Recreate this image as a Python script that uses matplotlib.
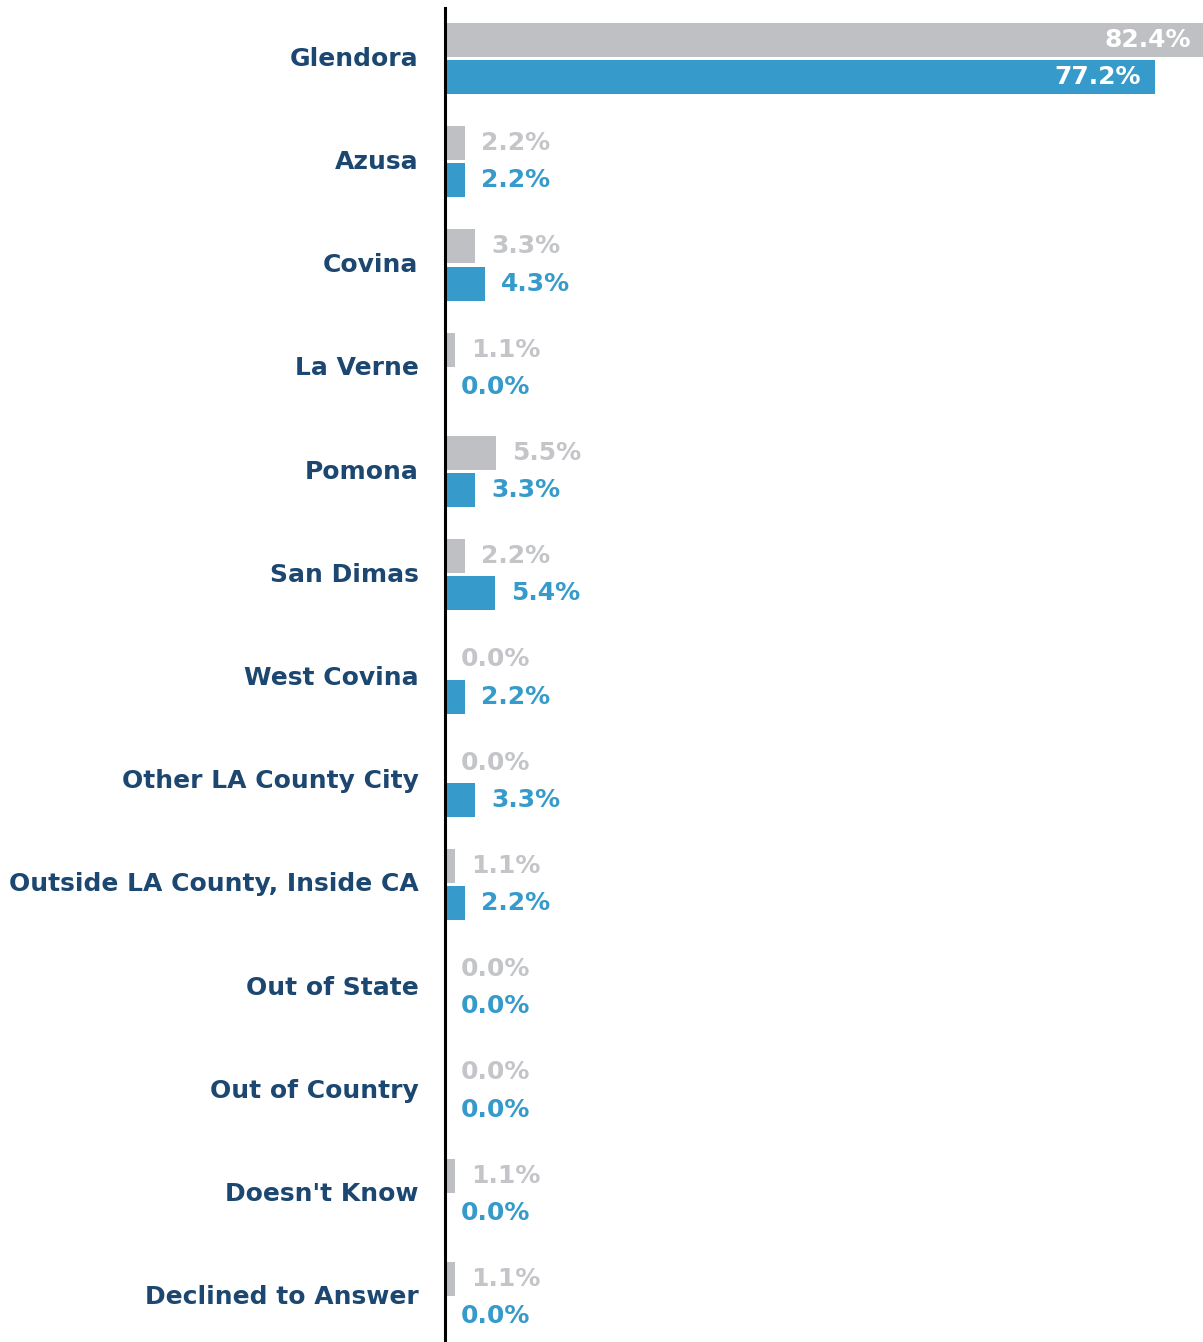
import matplotlib
matplotlib.use("Agg")
import matplotlib.pyplot as plt
import numpy as np

categories = ["Glendora", "Azusa", "Covina", "La Verne", "Pomona", "San Dimas",
              "West Covina", "Other LA County City", "Outside LA County, Inside CA",
              "Out of State", "Out of Country", "Doesn't Know", "Declined to Answer"]
prev_values = [82.4, 2.2, 3.3, 1.1, 5.5, 2.2, 0.0, 0.0, 1.1, 0.0, 0.0, 1.1, 1.1]
curr_values = [77.2, 2.2, 4.3, 0.0, 3.3, 5.4, 2.2, 3.3, 2.2, 0.0, 0.0, 0.0, 0.0]

GREY = "#BEC0C4"
GREY_TXT = "#C3C5C9"
BLUE = "#369BCA"
NAVY = "#1B4770"
FONT = "DejaVu Sans"

W, H = 1203, 1342
fig = plt.figure(figsize=(W / 100, H / 100), dpi=100)
left = 445 / W
top_px, bot_px = 8, 1342
ax = fig.add_axes([left, 1 - bot_px / H, 1 - left, (bot_px - top_px) / H])

y = np.arange(len(categories))
off = 0.18
h = 0.33
ax.barh(y - off, prev_values, height=h, color=GREY)
ax.barh(y + off, curr_values, height=h, color=BLUE)

xmax = 82.4
ax.set_xlim(0, xmax)
ax.set_ylim(12 + 44.5 / 103.2, -50.5 / 103.2)

for yi, v in zip(y, prev_values):
    if v > 40:
        ax.annotate(f"{v:.1f}%", (v, yi - off), xytext=(-12, 0), textcoords="offset pixels",
                    ha="right", va="center", color="white", fontsize=18, fontweight="bold", family=FONT)
    else:
        ax.annotate(f"{v:.1f}%", (v, yi - off), xytext=(16, 0), textcoords="offset pixels",
                    ha="left", va="center", color=GREY_TXT, fontsize=18, fontweight="bold", family=FONT)
for yi, v in zip(y, curr_values):
    if v > 40:
        ax.annotate(f"{v:.1f}%", (v, yi + off), xytext=(-14, 0), textcoords="offset pixels",
                    ha="right", va="center", color="white", fontsize=18, fontweight="bold", family=FONT)
    else:
        ax.annotate(f"{v:.1f}%", (v, yi + off), xytext=(16, 0), textcoords="offset pixels",
                    ha="left", va="center", color=BLUE, fontsize=18, fontweight="bold", family=FONT)

ax.set_yticks(y)
ax.set_yticklabels(categories, fontsize=18, fontweight="bold", color=NAVY, family=FONT,
                   va="center")
ax.tick_params(axis="y", length=0, pad=19)
ax.set_xticks([])
for s in ["top", "right", "bottom"]:
    ax.spines[s].set_visible(False)
ax.spines["left"].set_linewidth(2.2)
ax.spines["left"].set_color("black")

fig.savefig("out.png", dpi=100)
